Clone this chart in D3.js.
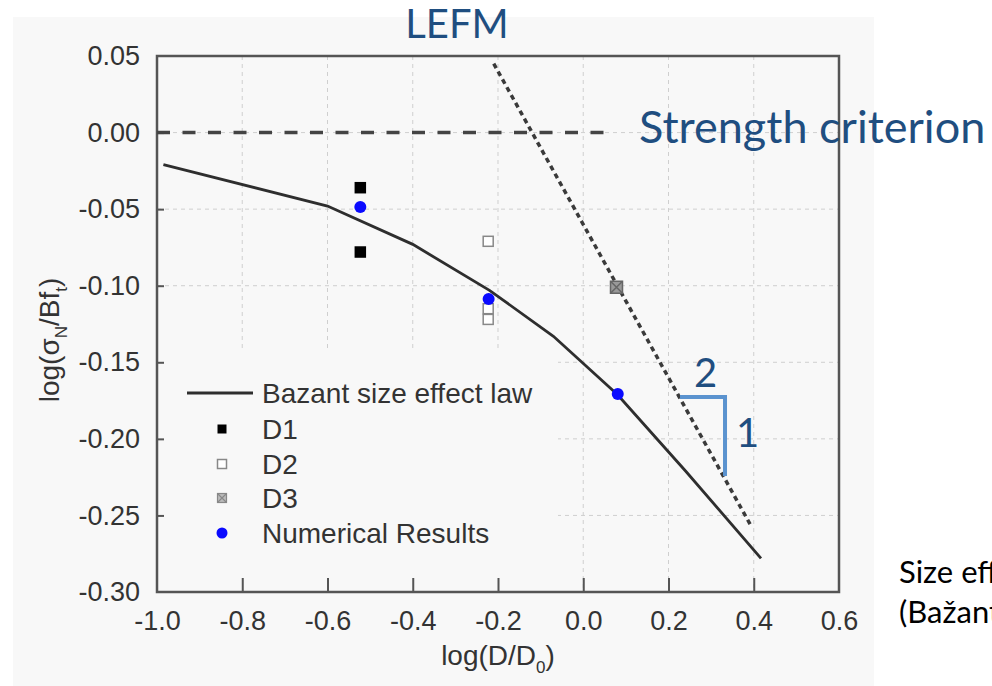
<!DOCTYPE html>
<html lang="en">
<head>
<meta charset="UTF-8">
<title>Size effect - Bazant law</title>
<style>
    body {
        margin: 0;
        padding: 0;
        background: #fff;
    }
    svg {
        display: block;
    }
    .chart-text {
        font-family: "Liberation Sans", Arial, sans-serif;
        fill: #333;
    }
    .note {
        font-family: Lato, "Noto Sans", sans-serif;
        fill: #1f4e80;
    }
</style>
</head>
<body>
<div id="chart"></div>
<script src="https://d3js.org/d3.v7.min.js"></script>
<script>
    // tick values and labels
    const xTicks = [-1.0, -0.8, -0.6, -0.4, -0.2, 0.0, 0.2, 0.4, 0.6];
    const xTickLabels = ["-1.0", "-0.8", "-0.6", "-0.4", "-0.2", "0.0", "0.2", "0.4", "0.6"];
    const yTicks = [0.05, 0.00, -0.05, -0.10, -0.15, -0.20, -0.25, -0.30];
    const yTickLabels = ["0.05", "0.00", "-0.05", "-0.10", "-0.15", "-0.20", "-0.25", "-0.30"];

    // Bazant size effect law
    const bazantX = [-0.985, -0.6, -0.4, -0.22, -0.07, 0.08, 0.24, 0.417];
    const bazantY = [-0.021, -0.048, -0.073, -0.103, -0.133, -0.171, -0.221, -0.278];

    // experiments
    const d1X = [-0.523, -0.523];
    const d1Y = [-0.036, -0.078];
    const d2X = [-0.223, -0.223, -0.223];
    const d2Y = [-0.071, -0.115, -0.122];
    const d3X = [0.078];
    const d3Y = [-0.101];
    const numX = [-0.523, -0.222, 0.081];
    const numY = [-0.0486, -0.1087, -0.1707];

    // asymptotes
    const lefmX = [-0.21, 0.395];
    const lefmY = [0.045, -0.2575];
    const strengthX = [-1.0, 0.05];
    const strengthY = [0.0, 0.0];

    // slope triangle 2:1
    const slopeX = [0.227, 0.3326, 0.3326];
    const slopeY = [-0.1727, -0.1727, -0.2243];

    const legendLabels = ["Bazant size effect law", "D1", "D2", "D3", "Numerical Results"];

    const W = 992, H = 686;
    const plot = { left: 157, top: 56, right: 839, bottom: 592 };

    const svg = d3.select("#chart").append("svg")
        .attr("width", W)
        .attr("height", H);

    // light panel behind the figure
    svg.append("rect")
        .attr("x", 13).attr("y", 17)
        .attr("width", 861).attr("height", 669)
        .attr("fill", "#f8f8f8");

    const x = d3.scaleLinear().domain([-1.0, 0.6]).range([plot.left, plot.right]);
    const y = d3.scaleLinear().domain([-0.30, 0.05]).range([plot.bottom, plot.top]);

    // grid
    svg.append("g").selectAll("line")
        .data(xTicks.slice(1, -1))
        .enter().append("line")
        .attr("x1", d => x(d)).attr("x2", d => x(d))
        .attr("y1", plot.top).attr("y2", plot.bottom)
        .attr("stroke", "#cfcfcf")
        .attr("stroke-width", 1)
        .attr("stroke-dasharray", "4,4");
    svg.append("g").selectAll("line")
        .data(yTicks.slice(1, -1))
        .enter().append("line")
        .attr("x1", plot.left).attr("x2", plot.right)
        .attr("y1", d => y(d)).attr("y2", d => y(d))
        .attr("stroke", "#cfcfcf")
        .attr("stroke-width", 1)
        .attr("stroke-dasharray", "4,4");

    // legend box hides the grid under it
    const lg = { x: plot.left, y: 348, w: 401 };
    svg.append("rect")
        .attr("x", lg.x).attr("y", lg.y)
        .attr("width", lg.w).attr("height", plot.bottom - lg.y)
        .attr("fill", "#f8f8f8");

    // axes
    const xAxis = d3.axisBottom(x)
        .tickValues(xTicks)
        .tickFormat((d, i) => xTickLabels[i])
        .tickSize(-14)
        .tickPadding(19);
    const yAxis = d3.axisLeft(y)
        .tickValues(yTicks)
        .tickFormat((d, i) => yTickLabels[i])
        .tickSize(-7)
        .tickPadding(17);

    const gx = svg.append("g")
        .attr("transform", "translate(0," + plot.bottom + ")")
        .call(xAxis);
    const gy = svg.append("g")
        .attr("transform", "translate(" + plot.left + ",0)")
        .call(yAxis);

    [gx, gy].forEach(g => {
        g.select(".domain").remove();
        g.selectAll(".tick line").attr("stroke", "#555").attr("stroke-width", 2);
        g.selectAll(".tick text")
            .attr("class", "chart-text")
            .style("font-size", "27px")
            .attr("fill", "#2e2e2e");
    });
    // first/last ticks sit on the frame
    gx.selectAll(".tick line").filter((d, i) => i === 0 || i === xTicks.length - 1).remove();
    gy.selectAll(".tick line").filter((d, i) => i === 0 || i === yTicks.length - 1).remove();

    // frame
    svg.append("rect")
        .attr("x", plot.left).attr("y", plot.top)
        .attr("width", plot.right - plot.left)
        .attr("height", plot.bottom - plot.top)
        .attr("fill", "none")
        .attr("stroke", "#555")
        .attr("stroke-width", 2.5);

    const line = d3.line().x(d => x(d[0])).y(d => y(d[1]));

    // strength criterion asymptote
    svg.append("path")
        .datum(d3.zip(strengthX, strengthY))
        .attr("d", line)
        .attr("fill", "none")
        .attr("stroke", "#444")
        .attr("stroke-width", 3.5)
        .attr("stroke-dasharray", "13,12.5");

    // LEFM asymptote
    svg.append("path")
        .datum(d3.zip(lefmX, lefmY))
        .attr("d", line)
        .attr("fill", "none")
        .attr("stroke", "#3a3a3a")
        .attr("stroke-width", 3.5)
        .attr("stroke-dasharray", "5,4");

    // Bazant curve
    svg.append("path")
        .datum(d3.zip(bazantX, bazantY))
        .attr("d", line)
        .attr("fill", "none")
        .attr("stroke", "#2e2e2e")
        .attr("stroke-width", 2.8);

    function squares(xs, ys, size, fill, stroke, cross) {
        const g = svg.append("g");
        d3.zip(xs, ys).forEach(p => {
            const cx = x(p[0]), cy = y(p[1]);
            g.append("rect")
                .attr("x", cx - size / 2).attr("y", cy - size / 2)
                .attr("width", size).attr("height", size)
                .attr("fill", fill)
                .attr("stroke", stroke)
                .attr("stroke-width", 1.5);
            if (cross) {
                g.append("path")
                    .attr("d", `M${cx - size / 2},${cy - size / 2}L${cx + size / 2},${cy + size / 2}M${cx + size / 2},${cy - size / 2}L${cx - size / 2},${cy + size / 2}`)
                    .attr("stroke", stroke)
                    .attr("stroke-width", 1.5);
            }
        });
    }
    squares(d1X, d1Y, 10, "#000", "#000", false);
    squares(d2X, d2Y, 10, "#fff", "#888", false);
    squares(d3X, d3Y, 12, "#999", "#666", true);

    svg.append("g").selectAll("circle")
        .data(d3.zip(numX, numY))
        .enter().append("circle")
        .attr("cx", d => x(d[0]))
        .attr("cy", d => y(d[1]))
        .attr("r", 6)
        .attr("fill", "#0a0aff");

    // legend
    const rows = [393, 429, 464, 498, 533];
    const leg = svg.append("g");
    leg.append("line")
        .attr("x1", 187).attr("x2", 253)
        .attr("y1", rows[0]).attr("y2", rows[0])
        .attr("stroke", "#2e2e2e").attr("stroke-width", 2.8);
    const mk = 222, ms = 9;
    leg.append("rect").attr("x", mk - ms / 2).attr("y", rows[1] - ms / 2)
        .attr("width", ms).attr("height", ms).attr("fill", "#000");
    leg.append("rect").attr("x", mk - ms / 2).attr("y", rows[2] - ms / 2)
        .attr("width", ms).attr("height", ms).attr("fill", "#fff")
        .attr("stroke", "#888").attr("stroke-width", 1.5);
    leg.append("rect").attr("x", mk - ms / 2).attr("y", rows[3] - ms / 2)
        .attr("width", ms).attr("height", ms).attr("fill", "#bbb")
        .attr("stroke", "#888").attr("stroke-width", 1.2);
    leg.append("path")
        .attr("d", `M${mk - ms / 2},${rows[3] - ms / 2}L${mk + ms / 2},${rows[3] + ms / 2}M${mk + ms / 2},${rows[3] - ms / 2}L${mk - ms / 2},${rows[3] + ms / 2}`)
        .attr("stroke", "#888").attr("stroke-width", 1.2);
    leg.append("circle").attr("cx", mk).attr("cy", rows[4]).attr("r", 5.5).attr("fill", "#0a0aff");
    leg.selectAll("text")
        .data(legendLabels)
        .enter().append("text")
        .attr("class", "chart-text")
        .attr("x", 262)
        .attr("y", (d, i) => rows[i])
        .attr("dy", "0.35em")
        .style("font-size", "28px")
        .text(d => d);

    // axis titles
    const xt = svg.append("text")
        .attr("class", "chart-text")
        .attr("x", (plot.left + plot.right) / 2)
        .attr("y", 665)
        .attr("text-anchor", "middle")
        .style("font-size", "28px");
    xt.append("tspan").text("log(D/D");
    xt.append("tspan").attr("dy", 8).style("font-size", "17px").text("0");
    xt.append("tspan").attr("dy", -8).text(")");

    const yt = svg.append("text")
        .attr("class", "chart-text")
        .attr("transform", "translate(59,340) rotate(-90)")
        .attr("text-anchor", "middle")
        .style("font-size", "28px");
    yt.append("tspan").text("log(σ");
    yt.append("tspan").attr("dy", 8).style("font-size", "17px").text("N");
    yt.append("tspan").attr("dy", -8).text("/Bf");
    yt.append("tspan").attr("dy", 8).style("font-size", "17px").text("t");
    yt.append("tspan").attr("dy", -8).text(")");

    // slide annotations
    svg.append("path")
        .datum(d3.zip(slopeX, slopeY))
        .attr("d", line)
        .attr("fill", "none")
        .attr("stroke", "#5b93cf")
        .attr("stroke-width", 4);

    svg.append("text").attr("class", "note")
        .attr("x", 457).attr("y", 38)
        .attr("text-anchor", "middle")
        .style("font-size", "40px")
        .text("LEFM");
    svg.append("text").attr("class", "note")
        .attr("x", 639).attr("y", 143)
        .style("font-size", "45px")
        .text("Strength criterion");
    svg.append("text").attr("class", "note")
        .attr("x", 694).attr("y", 387)
        .style("font-size", "40px")
        .text("2");
    svg.append("text").attr("class", "note")
        .attr("x", 736).attr("y", 447)
        .style("font-size", "40px")
        .text("1");

    svg.append("text").attr("class", "note")
        .attr("x", 899).attr("y", 583)
        .style("font-size", "31px")
        .style("fill", "#000")
        .text("Size effect");
    svg.append("text").attr("class", "note")
        .attr("x", 899).attr("y", 623)
        .style("font-size", "31px")
        .style("fill", "#000")
        .text("(Bažant)");
</script>
</body>
</html>
